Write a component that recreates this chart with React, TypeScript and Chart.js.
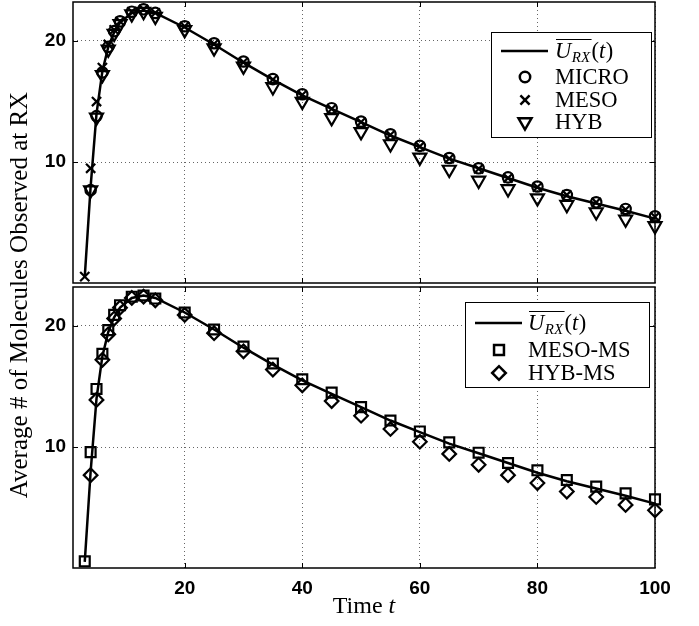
import React, { useEffect, useRef } from 'react';
import { Chart, registerables } from 'chart.js';
import { drawPoint } from 'chart.js/helpers';

Chart.register(...registerables);

// ---------------- data ----------------
const TIMES = [3, 4, 5, 6, 7, 8, 9, 11, 13, 15, 20, 25, 30, 35, 40, 45, 50, 55, 60, 65, 70, 75, 80, 85, 90, 95, 100];
const U_RX = [0.55, 8.0, 14.0, 17.5, 19.5, 20.7, 21.5, 22.3, 22.5, 22.3, 21.1, 19.7, 18.2, 16.8, 15.5, 14.4, 13.3, 12.2, 11.25, 10.3, 9.5, 8.7, 7.9, 7.2, 6.6, 6.0, 5.35];
const MICRO = [null, 7.7, 13.8, 17.4, 19.5, 20.8, 21.6, 22.4, 22.6, 22.3, 21.2, 19.8, 18.3, 16.85, 15.6, 14.45, 13.35, 12.3, 11.35, 10.35, 9.5, 8.75, 8.0, 7.3, 6.7, 6.15, 5.55];
const MESO = [0.57, 9.5, 15.0, 17.8, 19.7, 20.9, 21.6, 22.4, 22.6, 22.3, 21.2, 19.75, 18.25, 16.8, 15.55, 14.4, 13.3, 12.25, 11.3, 10.3, 9.45, 8.7, 7.95, 7.3, 6.7, 6.1, 5.5];
const HYB = [null, 7.7, 13.7, 17.2, 19.3, 20.6, 21.4, 22.2, 22.4, 22.0, 20.9, 19.4, 17.9, 16.2, 15.0, 13.65, 12.5, 11.5, 10.4, 9.4, 8.5, 7.8, 7.05, 6.5, 5.9, 5.3, 4.75];
const MESO_MS = [0.6, 9.6, 14.8, 17.7, 19.65, 20.9, 21.7, 22.4, 22.5, 22.25, 21.1, 19.7, 18.3, 16.9, 15.6, 14.5, 13.3, 12.2, 11.3, 10.4, 9.55, 8.7, 8.1, 7.3, 6.75, 6.2, 5.7];
const HYB_MS = [null, 7.7, 13.9, 17.2, 19.3, 20.6, 21.5, 22.3, 22.4, 22.1, 20.9, 19.4, 17.9, 16.4, 15.1, 13.8, 12.6, 11.5, 10.45, 9.45, 8.55, 7.7, 7.05, 6.35, 5.9, 5.25, 4.8];

const X_TICKS = [20, 40, 60, 80, 100];
const Y_TICKS = [10, 20];
const X_MIN = 1;
const X_MAX = 100;
const Y_MIN = 0.05;
const Y_MAX = 23.2;

const Y_TITLE = 'Average # of Molecules Observed at RX';
const X_TITLE = 'Time ';
const X_TITLE_VAR = 't';

// ---------------- layout ----------------
const W = 699;
const H = 626;
const AREA_LEFT = 73;
const AREA_RIGHT = 655;
const TOP_PANEL = { top: 2, bottom: 283 };
const BOT_PANEL = { top: 287, bottom: 568 };
const SERIF = '"Liberation Serif", "DejaVu Serif", serif';
const SANS = '"Liberation Sans", Arial, sans-serif';
const TXT = 22.5;

type Marker = { style: string; radius: number; rotation: number };
const M_CIRCLE: Marker = { style: 'circle', radius: 5.2, rotation: 0 };
const M_CROSS: Marker = { style: 'crossRot', radius: 6.5, rotation: 0 };
const M_TRI: Marker = { style: 'triangle', radius: 7.5, rotation: 180 };
const M_SQUARE: Marker = { style: 'rect', radius: 7, rotation: 0 };
const M_DIAMOND: Marker = { style: 'rectRot', radius: 6.8, rotation: 0 };

type Series = { label: string; values: (number | null)[]; marker: Marker };

const toPoints = (vals: (number | null)[]) => TIMES.map((t, i) => ({ x: t, y: vals[i] }));

function drawUrx(ctx: CanvasRenderingContext2D, x: number, y: number) {
  const base = y + 7;
  ctx.save();
  ctx.fillStyle = '#000';
  ctx.textBaseline = 'alphabetic';
  ctx.textAlign = 'left';
  ctx.font = `italic ${TXT}px ${SERIF}`;
  let cx = x;
  ctx.fillText('U', cx, base);
  cx += ctx.measureText('U').width + 0.5;
  ctx.font = `italic 15px ${SERIF}`;
  ctx.fillText('RX', cx, base + 4);
  cx += ctx.measureText('RX').width + 1.5;
  const overEnd = cx;
  ctx.font = `${TXT}px ${SERIF}`;
  ctx.fillText('(', cx, base);
  cx += ctx.measureText('(').width;
  ctx.font = `italic ${TXT}px ${SERIF}`;
  ctx.fillText('t', cx, base);
  cx += ctx.measureText('t').width + 0.5;
  ctx.font = `${TXT}px ${SERIF}`;
  ctx.fillText(')', cx, base);
  ctx.strokeStyle = '#000';
  ctx.lineWidth = 1;
  ctx.beginPath();
  ctx.moveTo(x + 1, base - 18.5);
  ctx.lineTo(overEnd, base - 18.5);
  ctx.stroke();
  ctx.restore();
}

type LegendBox = { x: number; y: number; w: number; h: number; rows: number[]; lineX0: number; lineX1: number; markX: number; textX: number };

function drawLegend(chart: any, box: LegendBox, series: Series[]) {
  const ctx: CanvasRenderingContext2D = chart.ctx;
  ctx.save();
  ctx.fillStyle = '#fff';
  ctx.fillRect(box.x, box.y, box.w, box.h);
  ctx.strokeStyle = '#000';
  ctx.lineWidth = 1;
  ctx.strokeRect(box.x + 0.5, box.y + 0.5, box.w, box.h);
  ctx.lineWidth = 2.5;
  ctx.beginPath();
  ctx.moveTo(box.lineX0, box.rows[0]);
  ctx.lineTo(box.lineX1, box.rows[0]);
  ctx.stroke();
  drawUrx(ctx, box.textX, box.rows[0]);
  series.forEach((s, i) => {
    const yy = box.rows[i + 1];
    ctx.strokeStyle = '#000';
    ctx.fillStyle = 'rgba(0,0,0,0)';
    drawPoint(ctx, { pointStyle: s.marker.style as any, rotation: s.marker.rotation, radius: s.marker.radius, borderWidth: 2.2 } as any, box.markX, yy);
    ctx.fillStyle = '#000';
    ctx.font = `${TXT}px ${SERIF}`;
    ctx.textBaseline = 'middle';
    ctx.textAlign = 'left';
    ctx.fillText(s.label, box.textX, yy + 1);
  });
  ctx.restore();
}

function drawFrame(chart: any) {
  const ctx: CanvasRenderingContext2D = chart.ctx;
  const { left, right, top, bottom } = chart.chartArea;
  const xs = chart.scales.x;
  const ys = chart.scales.y;
  const TL = 5;
  ctx.save();
  ctx.strokeStyle = '#000';
  ctx.lineWidth = 1;
  ctx.beginPath();
  X_TICKS.forEach((v) => {
    const px = Math.round(xs.getPixelForValue(v)) + 0.5;
    if (px > left + 2 && px < right - 2) {
      ctx.moveTo(px, bottom);
      ctx.lineTo(px, bottom - TL);
      ctx.moveTo(px, top);
      ctx.lineTo(px, top + TL);
    }
  });
  Y_TICKS.forEach((v) => {
    const py = Math.round(ys.getPixelForValue(v)) + 0.5;
    ctx.moveTo(left, py);
    ctx.lineTo(left + TL, py);
    ctx.moveTo(right, py);
    ctx.lineTo(right - TL, py);
  });
  ctx.stroke();
  ctx.lineWidth = 1.5;
  ctx.strokeRect(left, top, right - left, bottom - top);
  ctx.restore();
}

const zeroPad = (s: any) => {
  s.paddingTop = 0;
  s.paddingBottom = 0;
  s.paddingLeft = 0;
  s.paddingRight = 0;
};

function makeConfig(panel: { top: number; bottom: number }, series: Series[], legend: LegendBox, bottomAxis: boolean): any {
  const xHeight = bottomAxis ? H - panel.bottom : 0;
  const datasets: any[] = [
    {
      label: 'U_RX',
      data: toPoints(U_RX),
      borderColor: '#000',
      borderWidth: 2.5,
      pointRadius: 0,
      fill: false,
      order: 0,
      clip: false,
    },
    ...series.map((s, i) => ({
      label: s.label,
      data: toPoints(s.values),
      showLine: false,
      pointStyle: s.marker.style,
      pointRotation: s.marker.rotation,
      pointRadius: s.marker.radius,
      pointBorderWidth: 2.2,
      pointBorderColor: '#000',
      pointBackgroundColor: 'rgba(0,0,0,0)',
      order: i + 1,
      clip: false,
    })),
  ];
  const tickFont = { family: SANS, size: 19, weight: 'bold' as const };
  return {
    type: 'line',
    data: { datasets },
    options: {
      animation: false,
      responsive: false,
      maintainAspectRatio: false,
      events: [],
      layout: { autoPadding: false, padding: { left: 0, right: W - AREA_RIGHT, top: panel.top, bottom: bottomAxis ? 0 : H - panel.bottom } },
      plugins: { legend: { display: false }, tooltip: { enabled: false }, title: { display: false } },
      scales: {
        x: {
          type: 'linear',
          min: X_MIN,
          max: X_MAX,
          afterBuildTicks: (s: any) => {
            s.ticks = X_TICKS.map((v) => ({ value: v }));
          },
          afterFit: (s: any) => {
            s.height = xHeight;
            zeroPad(s);
          },
          ticks: { display: bottomAxis, font: tickFont, color: '#000', padding: 9, maxRotation: 0, autoSkip: false },
          grid: { color: '#666', lineWidth: 1, drawTicks: false },
          border: { display: false, dash: [1, 3] },
        },
        y: {
          type: 'linear',
          min: Y_MIN,
          max: Y_MAX,
          afterBuildTicks: (s: any) => {
            s.ticks = Y_TICKS.map((v) => ({ value: v }));
          },
          afterFit: (s: any) => {
            s.width = AREA_LEFT;
            zeroPad(s);
          },
          ticks: { font: tickFont, color: '#000', padding: 7 },
          grid: { color: '#666', lineWidth: 1, drawTicks: false },
          border: { display: false, dash: [1, 3] },
        },
      },
    },
    plugins: [
      {
        id: 'frameAndLegend',
        afterDraw: (chart: any) => {
          drawFrame(chart);
          drawLegend(chart, legend, series);
          if (bottomAxis) {
            const ctx: CanvasRenderingContext2D = chart.ctx;
            ctx.save();
            ctx.fillStyle = '#000';
            ctx.textBaseline = 'middle';
            const XT = 24;
            ctx.font = `${XT}px ${SERIF}`;
            const w1 = ctx.measureText(X_TITLE).width;
            ctx.font = `italic ${XT}px ${SERIF}`;
            const w2 = ctx.measureText(X_TITLE_VAR).width;
            const cx = (chart.chartArea.left + chart.chartArea.right) / 2;
            const x0 = cx - (w1 + w2) / 2;
            ctx.textAlign = 'left';
            ctx.font = `${XT}px ${SERIF}`;
            ctx.fillText(X_TITLE, x0, 607);
            ctx.font = `italic ${XT}px ${SERIF}`;
            ctx.fillText(X_TITLE_VAR, x0 + w1, 607);
            ctx.translate(20, 295);
            ctx.rotate(-Math.PI / 2);
            ctx.textAlign = 'center';
            ctx.font = `25px ${SERIF}`;
            ctx.fillText(Y_TITLE, 0, 0);
            ctx.restore();
          }
        },
      },
    ],
  };
}

const TOP_SERIES: Series[] = [
  { label: 'MICRO', values: MICRO, marker: M_CIRCLE },
  { label: 'MESO', values: MESO, marker: M_CROSS },
  { label: 'HYB', values: HYB, marker: M_TRI },
];
const BOT_SERIES: Series[] = [
  { label: 'MESO-MS', values: MESO_MS, marker: M_SQUARE },
  { label: 'HYB-MS', values: HYB_MS, marker: M_DIAMOND },
];

const TOP_LEGEND: LegendBox = { x: 491, y: 32, w: 160, h: 105, rows: [51, 77, 100, 122], lineX0: 501, lineX1: 548, markX: 525, textX: 555 };
const BOT_LEGEND: LegendBox = { x: 465, y: 302, w: 184, h: 85, rows: [323, 350, 373], lineX0: 475, lineX1: 522, markX: 499, textX: 528 };

export default function App() {
  const topRef = useRef<HTMLCanvasElement | null>(null);
  const botRef = useRef<HTMLCanvasElement | null>(null);
  useEffect(() => {
    const c1 = new Chart(topRef.current as HTMLCanvasElement, makeConfig(TOP_PANEL, TOP_SERIES, TOP_LEGEND, false));
    const c2 = new Chart(botRef.current as HTMLCanvasElement, makeConfig(BOT_PANEL, BOT_SERIES, BOT_LEGEND, true));
    return () => {
      c1.destroy();
      c2.destroy();
    };
  }, []);
  const cs: React.CSSProperties = { position: 'absolute', left: 0, top: 0, width: W, height: H };
  return (
    <div style={{ position: 'absolute', left: 0, top: 0, width: W, height: H, background: '#fff' }}>
      <canvas ref={topRef} width={W} height={H} style={cs} />
      <canvas ref={botRef} width={W} height={H} style={cs} />
    </div>
  );
}
